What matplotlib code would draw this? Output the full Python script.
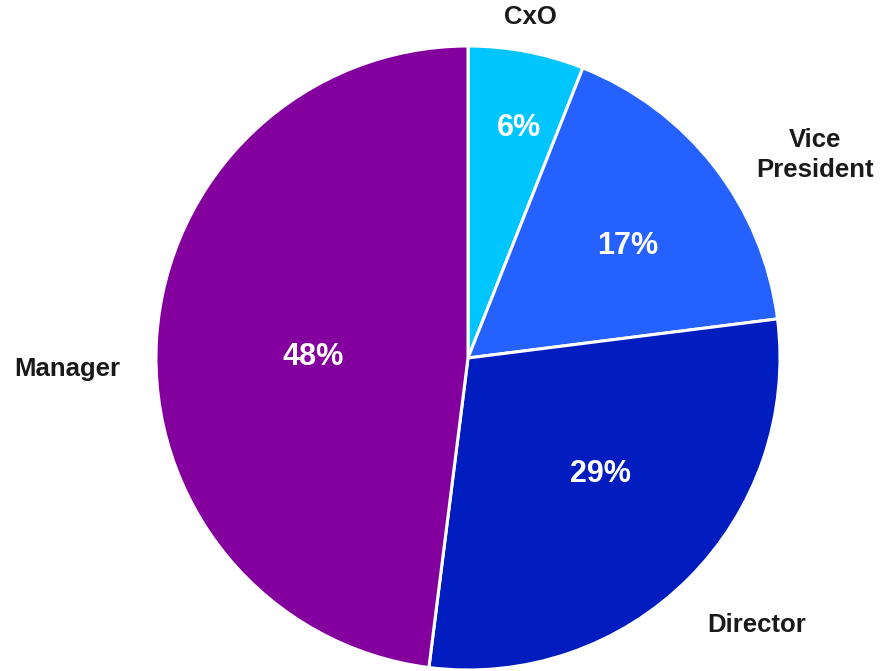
import matplotlib
matplotlib.use("Agg")
import matplotlib.pyplot as plt

# share of respondents by job level
levels = ["CxO", "Vice\nPresident", "Director", "Manager"]
shares = [6, 17, 29, 48]
colors = ["#00C5FF", "#2461FF", "#011CBF", "#84009E"]

# text placement in pixel coordinates (x, y from top)
name_pos = [(530, 17), (815, 155), (757, 625), (67, 369)]
pct_pos = [(519, 128), (628, 246), (600, 474), (313, 357)]

W, H = 886, 671
plt.rcParams["font.family"] = ["Liberation Sans", "DejaVu Sans"]

fig = plt.figure(figsize=(W / 100, H / 100), dpi=100)
ax = fig.add_axes([0, 0, 1, 1])

ax.pie(shares, colors=colors, startangle=90, counterclock=False,
       center=(468, H - 358), radius=312, frame=True,
       wedgeprops=dict(edgecolor="white", linewidth=2.2))
ax.set_xlim(0, W)
ax.set_ylim(0, H)
ax.set_aspect("equal")
ax.axis("off")

for name, (x, y) in zip(levels, name_pos):
    ax.text(x, H - y, name, ha="center", va="center", fontsize=18.5,
            fontweight="bold", color="#1a1a1a", linespacing=1.35)

for v, (x, y) in zip(shares, pct_pos):
    ax.text(x, H - y, f"{v}%", ha="center", va="center", fontsize=22,
            fontweight="bold", color="white")

fig.savefig("out.png", dpi=100)
